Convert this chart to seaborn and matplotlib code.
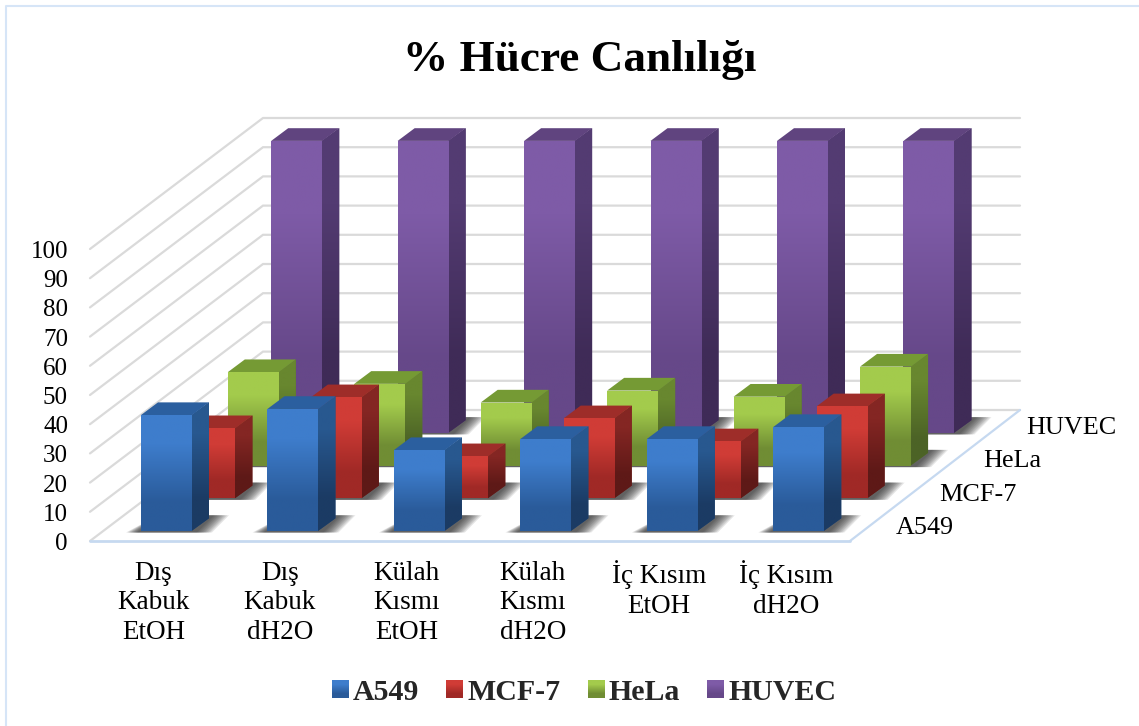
import numpy as np
import pandas as pd
import seaborn as sns
import matplotlib
matplotlib.use("Agg")
import matplotlib.pyplot as plt
from matplotlib.patches import Polygon, Patch
from matplotlib.colors import to_rgb

categories = ["Dış\nKabuk\nEtOH", "Dış\nKabuk\ndH2O", "Külah\nKısmı\nEtOH",
              "Külah\nKısmı\ndH2O", "İç Kısım\nEtOH", "İç Kısım\ndH2O"]
series_names = ["A549", "MCF-7", "HeLa", "HUVEC"]
a549 = [39.7, 41.8, 27.7, 31.5, 31.5, 35.6]
mcf7 = [24.0, 34.6, 14.4, 27.4, 19.5, 31.5]
hela = [32.0, 28.0, 21.6, 25.7, 23.6, 33.9]
huvec = [100, 100, 100, 100, 100, 100]
series_values = [a549, mcf7, hela, huvec]
y_ticks = list(range(0, 101, 10))

front_top = ["#3E7DCC", "#D03C36", "#A3CB4C", "#7E5BA7"]
front_bot = ["#2A5B9A", "#A02926", "#708D34", "#664889"]
side_top = ["#28588F", "#842623", "#68872F", "#533B72"]
side_bot = ["#1B3B64", "#5E1917", "#4C6326", "#3F2B57"]
top_face = ["#2B5F9F", "#9E2D29", "#759A34", "#60447F"]

W, H = 1139, 726
PX = 2.92          # pixels per value unit
STEP_C = 126.45    # pixels between categories
STEP_SX, STEP_SY = 43.4, 32.7   # pixels between series (depth)
BAR_W = 51
DX, DY = 17, 12.7  # bar depth
X0, BASE0 = 141, H - 531

sns.set_theme(style="white")
plt.rcParams["font.family"] = ["Liberation Serif", "DejaVu Serif"]

fig = plt.figure(figsize=(W / 100, H / 100), dpi=100)
ax = fig.add_axes([0, 0, 1, 1])


def mix(a, b):
    return tuple((np.array(to_rgb(a)) + np.array(to_rgb(b))) / 2)


def gradient(patch, c_top, c_bot, z):
    bb = patch.get_path().transformed(patch.get_patch_transform()).get_extents() \
        if not isinstance(patch, Polygon) else patch.get_path().get_extents()
    rgb = np.array([[to_rgb(c_top)], [to_rgb(c_bot)]])
    im = ax.imshow(rgb, extent=(bb.x0, bb.x1, bb.y0, bb.y1), origin="upper",
                   aspect="auto", interpolation="bilinear", zorder=z)
    im.set_clip_path(patch)


# walls and floor
wall_l, wall_r, floor_back = 263, 1020, H - 410
floor_l, floor_r, floor_front = 90, 850, H - 541
for v in y_ticks:
    h = v * PX
    ax.plot([floor_l, wall_l, wall_r], [floor_front + h, floor_back + h, floor_back + h],
            color="#DADADA", lw=1.6, zorder=1, solid_joinstyle="miter")
ax.plot([floor_r, wall_r], [floor_front, floor_back], color="#C6D9F0", lw=1.6, zorder=1.2)
ax.plot([floor_l, floor_r], [floor_front, floor_front], color="#C6D9F0", lw=2, zorder=1.2)

# bars, back series first
for s in range(3, -1, -1):
    z = 10 + (3 - s) * 10
    df = pd.DataFrame({
        "x": [X0 + c * STEP_C + s * STEP_SX + BAR_W / 2 for c in range(len(categories))],
        "height": [v * PX for v in series_values[s]],
    })
    base = BASE0 + s * STEP_SY
    n_before = len(ax.patches)
    sns.barplot(data=df, x="x", y="height", native_scale=True, width=BAR_W / STEP_C,
                bottom=base, color=front_top[s], saturation=1, errorbar=None,
                linewidth=0, ax=ax, zorder=z + 3)
    bars = ax.patches[n_before:]
    for bar in bars:
        x0, x1 = bar.get_x(), bar.get_x() + bar.get_width()
        yb, yt = bar.get_y(), bar.get_y() + bar.get_height()
        # soft floor shadow, fading outwards from the bar foot
        for g in np.linspace(1.0, 0.25, 10):
            ax.add_patch(Polygon([(x0 - 15 * g, yb - 1.5), (x1 + 20 * g, yb - 1.5),
                                  (x1 + DX + 20 * g, yb + DY + 3), (x0 + DX, yb + DY + 3)],
                                 closed=True, fc="#202020", ec="none", alpha=0.11, zorder=z))
        side = Polygon([(x1 - 0.5, yb), (x1 + DX, yb + DY), (x1 + DX, yt + DY), (x1 - 0.5, yt)],
                       closed=True, fc=mix(side_top[s], side_bot[s]), ec="none", zorder=z + 1)
        ax.add_patch(side)
        gradient(side, side_top[s], side_bot[s], z + 1.5)
        ax.add_patch(Polygon([(x0, yt), (x1, yt), (x1 + DX, yt + DY), (x0 + DX, yt + DY)],
                             closed=True, fc=top_face[s], ec="none", zorder=z + 2))
        bar.set_zorder(z + 3)
        bar.set_facecolor(mix(front_top[s], front_bot[s]))
        gradient(bar, front_top[s], front_bot[s], z + 3.5)

# text
ax.text(579.5, H - 60, "% Hücre Canlılığı", ha="center", va="center", fontsize=32.6,
        fontweight="bold", color="black", zorder=90)
for v in y_ticks:
    ax.text(68, floor_front + v * PX - 3, str(v), ha="right", va="center", fontsize=18,
            color="black", zorder=90)
for c, name in enumerate(categories):
    ax.text(153.5 + c * STEP_C, H - 560.5, name, ha="center", va="top", fontsize=19.5,
            linespacing=1.26, color="black", zorder=90)
for s, name in enumerate(series_names):
    ax.text(896 + s * STEP_SX, H - (528 - s * 33.4), name, ha="left", va="center",
            fontsize=18.8, color="black", zorder=90)

# frame
ax.plot([6, 6, W], [0, H - 6, H - 6], color="#D6E5F7", lw=1.5, zorder=0.5)

ax.set_xlim(0, W)
ax.set_ylim(0, H)
ax.set_xlabel("")
ax.set_ylabel("")
ax.axis("off")

# legend
handles = [Patch(facecolor=front_top[i], label=series_names[i]) for i in range(4)]
leg = ax.legend(handles=handles, ncol=4, loc="center", bbox_to_anchor=(584, H - 692),
                bbox_transform=ax.transData, frameon=False, handlelength=0.54, handleheight=0.54,
                handletextpad=0.17, columnspacing=0.9, borderpad=0,
                prop={"size": 21.5, "weight": "bold", "family": "Liberation Serif"})
fig.canvas.draw()
for i, hd in enumerate(leg.legend_handles):
    bb = hd.get_window_extent()
    rgb = np.array([[to_rgb(front_top[i])], [to_rgb(front_bot[i])]])
    ax.imshow(rgb, extent=(bb.x0, bb.x1, bb.y0, bb.y1), origin="upper", aspect="auto",
              interpolation="bilinear", zorder=95)
ax.set_xlim(0, W)
ax.set_ylim(0, H)

fig.savefig("out.png", dpi=100, facecolor="white")
